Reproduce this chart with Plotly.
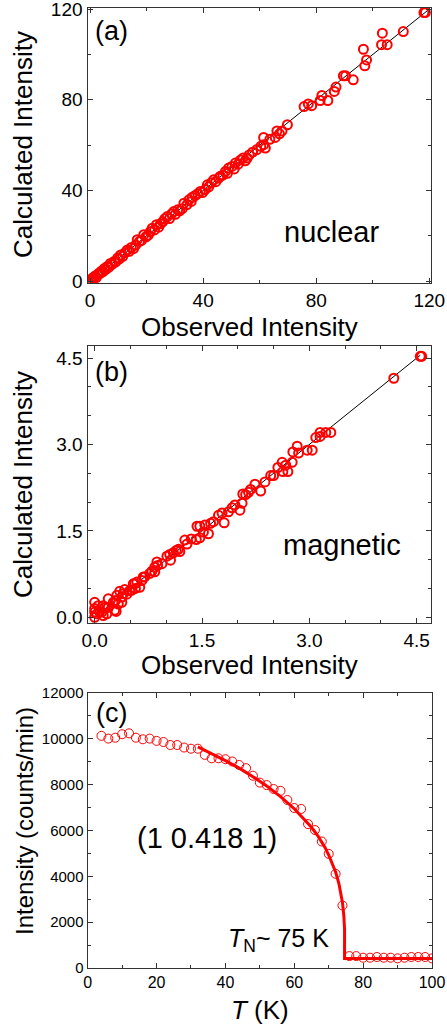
import plotly.graph_objects as go

# ---- (a) nuclear reflections: observed vs calculated intensity ----
nuc_obs = [0.3, 0.5, 0.9, 1.4, 1.8, 2.2, 2.7, 3.2, 3.6, 4.1, 4.6, 5.1, 5.6, 6.1, 6.7, 7.2,
           7.8, 8.5, 9.1, 9.8, 10.4, 10.8, 11.6, 12.3, 13.2, 13.9, 14.6, 15.4, 16.2, 16.7,
           17.5, 18.2, 19.0, 19.8, 20.6, 21.3, 22.0, 22.8, 23.5, 24.3, 24.9, 25.7, 26.4,
           27.3, 28.1, 28.8, 29.6, 30.2, 31.0, 31.7, 32.6, 33.2, 34.3, 35.0, 35.8, 36.1,
           37.2, 38.1, 39.0, 39.8, 40.7, 41.5, 42.0, 42.9, 43.7, 44.5, 45.5, 46.1, 47.0,
           47.9, 48.6, 49.0, 50.2, 51.0, 51.4, 52.4, 53.2, 54.1, 54.9, 55.6, 56.3, 57.5,
           59.0, 60.4, 61.4, 62.0, 61.4, 63.6, 65.5, 66.1, 67.9, 67.0, 69.8, 75.7, 77.2,
           78.4, 81.4, 84.1, 82.0, 86.4, 87.0, 89.6, 90.4, 93.1, 96.7, 97.8, 97.2, 103.1,
           105.1, 103.4, 110.8, 118.1, 118.6]
nuc_calc = [0.0, 0.6, 1.4, 1.4, 2.3, 1.6, 3.0, 3.6, 3.4, 4.5, 4.2, 5.6, 5.2, 6.5, 6.2, 7.8,
            7.4, 8.7, 8.5, 10.3, 9.8, 11.6, 11.0, 12.5, 13.8, 13.2, 14.9, 14.4, 16.0, 18.3,
            17.6, 18.0, 20.5, 19.6, 20.3, 21.8, 23.4, 22.6, 24.9, 23.8, 25.3, 26.2, 27.5,
            28.5, 27.6, 29.6, 30.7, 29.5, 31.5, 31.0, 32.0, 34.4, 33.8, 35.9, 35.2, 37.0,
            37.8, 38.6, 39.6, 39.1, 40.4, 42.5, 41.6, 43.4, 44.7, 43.9, 45.5, 46.3, 46.8,
            48.4, 47.6, 49.9, 50.6, 49.5, 52.1, 51.6, 53.4, 54.3, 53.1, 54.3, 55.7, 56.9,
            58.0, 59.5, 60.2, 58.7, 63.4, 62.6, 63.4, 66.3, 66.3, 65.0, 69.0, 77.0, 78.2,
            77.4, 79.7, 79.7, 81.9, 83.7, 85.6, 90.6, 90.6, 88.8, 102.3, 97.6, 95.0, 104.3,
            104.3, 109.4, 110.1, 118.5, 118.5]
nuc_diag = [0, 120]

# ---- (b) magnetic reflections ----
mag_obs = [4.55, 4.57, 4.18, 3.30, 3.23, 3.15, 3.09, 3.15, 3.04, 2.97, 2.83, 2.85, 2.77,
           2.76, 2.62, 2.67, 2.63, 2.70, 2.46, 2.50, 2.56, 2.38, 2.32, 2.24, 2.18, 2.15,
           2.07, 2.11, 2.06, 1.96, 2.03, 1.92, 1.87, 1.78, 1.73, 1.81, 1.66, 1.62, 1.54,
           1.47, 1.43, 1.59, 1.52, 1.47, 1.42, 1.35, 1.26, 1.29, 1.19, 1.14, 1.17, 1.10,
           1.05, 1.01, 1.06, 0.94, 0.87, 0.84, 0.88, 0.80, 0.77, 0.84, 0.70, 0.66, 0.68,
           0.59, 0.54, 0.63, 0.56, 0.52, 0.57, 0.49, 0.45, 0.42, 0.40, 0.35, 0.38, 0.31,
           0.33, 0.29, 0.26, 0.28, 0.38, 0.30, 0.19, 0.19, 0.14, 0.12, 0.10, 0.12, 0.05,
           0.00, 0.00, 0.00, 0.00, 0.07, 0.17, 0.03]
mag_calc = [4.53, 4.53, 4.15, 3.21, 3.21, 3.21, 3.12, 3.14, 2.90, 2.90, 2.97, 2.85, 2.87,
            2.69, 2.69, 2.64, 2.53, 2.53, 2.46, 2.46, 2.60, 2.35, 2.19, 2.31, 2.22, 2.17,
            2.14, 2.13, 1.98, 1.95, 1.86, 1.90, 1.83, 1.81, 1.77, 1.64, 1.66, 1.63, 1.60,
            1.58, 1.58, 1.45, 1.48, 1.38, 1.35, 1.36, 1.34, 1.27, 1.14, 1.16, 1.18, 1.12,
            1.09, 1.06, 0.99, 0.93, 0.96, 0.87, 0.90, 0.80, 0.76, 0.79, 0.70, 0.64, 0.70,
            0.61, 0.58, 0.52, 0.58, 0.47, 0.50, 0.46, 0.40, 0.48, 0.41, 0.45, 0.35, 0.38,
            0.23, 0.29, 0.26, 0.12, 0.26, 0.10, 0.32, 0.17, 0.17, 0.20, 0.09, 0.03, 0.20,
            0.26, 0.15, 0.09, 0.00, 0.09, 0.06, 0.06]
mag_diag = [0, 4.55]

# ---- (c) (1 0.418 1) peak intensity vs temperature ----
temp = [4, 6, 8, 10, 12, 14, 16, 18, 20, 22, 24, 26, 28, 30, 32, 34, 36, 38, 40, 42, 44,
        46, 48, 50, 52, 54, 56, 58, 60, 62, 64, 66, 68, 70, 72, 74, 76, 78, 80, 82, 84,
        86, 88, 90, 92, 94, 96, 98, 100]
counts = [10130, 10010, 10050, 10200, 10240, 10050, 9980, 10010, 9910, 9860, 9730, 9730,
          9620, 9570, 9570, 9300, 9150, 9150, 9110, 9010, 8860, 8720, 8390, 8090, 7980,
          7810, 7730, 7330, 6980, 6940, 6280, 6020, 5520, 4980, 4110, 2730, 520, 520, 450,
          450, 480, 450, 450, 420, 450, 480, 480, 480, 420]

# order-parameter fit curve
fit_T = [32, 36, 40, 44, 48, 52, 56, 60, 63, 65, 67, 69, 70, 71, 72, 73, 74, 74.4, 74.6,
         74.6, 100]
fit_I = [9650, 9360, 9050, 8720, 8350, 7940, 7480, 6950, 6490, 6140, 5730, 5240, 4930,
         4590, 4190, 3660, 2850, 2270, 1700, 410, 410]

W, H = 447, 1028
FONT = "Liberation Sans, Arial, sans-serif"
RED = "#ff0000"


def px(x):
    return x / W


def py(y):
    return 1 - y / H


fig = go.Figure()

fig.add_trace(go.Scatter(x=nuc_diag, y=nuc_diag, mode="lines",
                         line=dict(color="black", width=1), xaxis="x", yaxis="y"))
fig.add_trace(go.Scatter(x=nuc_obs, y=nuc_calc, mode="markers",
                         marker=dict(symbol="circle-open", size=9, color=RED,
                                     line=dict(width=2, color=RED)),
                         xaxis="x", yaxis="y"))

fig.add_trace(go.Scatter(x=mag_diag, y=mag_diag, mode="lines",
                         line=dict(color="black", width=1), xaxis="x2", yaxis="y2"))
fig.add_trace(go.Scatter(x=mag_obs, y=mag_calc, mode="markers",
                         marker=dict(symbol="circle-open", size=9, color=RED,
                                     line=dict(width=2, color=RED)),
                         xaxis="x2", yaxis="y2"))

fig.add_trace(go.Scatter(x=temp, y=counts, mode="markers",
                         marker=dict(symbol="circle-open", size=9, color=RED,
                                     line=dict(width=1, color=RED)),
                         xaxis="x3", yaxis="y3"))
fig.add_trace(go.Scatter(x=fit_T, y=fit_I, mode="lines",
                         line=dict(color=RED, width=3), xaxis="x3", yaxis="y3"))


def axis(domain, rng, dtick, minor, anchor, size, fmt=None):
    d = dict(domain=domain, range=rng, dtick=dtick, tick0=0, anchor=anchor,
             showline=True, linecolor="#333", linewidth=1.3, mirror="ticks",
             ticks="inside", ticklen=5, tickwidth=1.2, tickcolor="#333",
             minor=dict(dtick=minor, ticks="inside", ticklen=3, tickwidth=1, tickcolor="#333"),
             showgrid=False, zeroline=False, automargin=False,
             ticklabeloverflow="allow",
             tickfont=dict(family=FONT, size=size, color="black"))
    if fmt:
        d["tickformat"] = fmt
    return d


xdom = [px(87.5), px(431)]
fig.update_layout(
    width=W, height=H, margin=dict(l=0, r=0, t=0, b=0),
    paper_bgcolor="white", plot_bgcolor="white", showlegend=False,
    font=dict(family=FONT, color="black"),
    xaxis=axis(xdom, [-0.9, 120.6], 40, 20, "y", 19),
    yaxis=axis([py(283), py(8)], [-0.8, 120.5], 40, 20, "x", 19),
    xaxis2=axis(xdom, [-0.1, 4.7], 1.5, 0.5, "y2", 19, ".1f"),
    yaxis2=axis([py(623), py(346)], [-0.1, 4.71], 1.5, 0.5, "x2", 19, ".1f"),
    xaxis3=axis([px(87.7), px(432)], [0, 100], 20, 10, "y3", 16),
    yaxis3=axis([py(968), py(693)], [0, 12000], 2000, 1000, "x3", 15, "d"),
)


def label(x, y, text, size, angle=0):
    fig.add_annotation(x=px(x), y=py(y), xref="paper", yref="paper", text=text,
                       showarrow=False, textangle=angle, xanchor="center", yanchor="middle",
                       font=dict(family=FONT, size=size, color="black"))


# axis titles
label(23, 145, "Calculated Intensity", 26, -90)
label(249.5, 327, "Observed Intensity", 26)
label(23, 485, "Calculated Intensity", 26, -90)
label(249.5, 665, "Observed Intensity", 26)
label(24, 821, "Intensity (counts/min)", 24, -90)
label(260, 1010, "<i>T</i> (K)", 26)

# panel tags and notes
label(111.5, 31, "(a)", 27)
label(111.5, 372, "(b)", 27)
label(111.5, 713, "(c)", 27)
label(331, 232, "nuclear", 29)
label(342, 545, "magnetic", 29)
label(207, 838, "(1 0.418 1)", 29)
label(278, 940, "<i>T</i><sub>N</sub>~ 75 K", 25)

fig.write_html("out.html")
